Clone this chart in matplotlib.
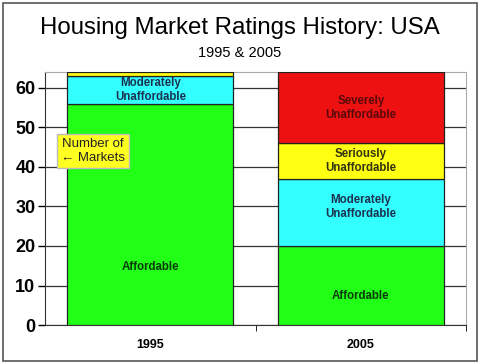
import matplotlib.pyplot as plt
from matplotlib.patches import Rectangle

plt.rcParams['font.family'] = ['Liberation Sans', 'DejaVu Sans']

years = ['1995', '2005']
ratings = ['Affordable', 'Moderately\nUnaffordable', 'Seriously\nUnaffordable', 'Severely\nUnaffordable']
counts_1995 = [56, 7, 1, 0]
counts_2005 = [20, 17, 9, 18]
yticks = [0, 10, 20, 30, 40, 50, 60]

colors = ['#22ff16', '#33ffff', '#ffff11', '#ee1111']
text_colors = ['#0a3a0a', '#1c3350', '#333310', '#5a0a0a']
# where the label sits inside each segment (fraction of segment height)
label_frac = {(0, 0): 0.26, (1, 0): 0.37, (1, 1): 0.58}

fig = plt.figure(figsize=(4.8, 3.64), dpi=100)
fig.patches.append(Rectangle((0.006, 0.008), 0.988, 0.984, transform=fig.transFigure,
                             fill=False, edgecolor='#555555', linewidth=1.2))
ax = fig.add_axes([0.094, 0.107, 0.877, 0.695])

data = [counts_1995, counts_2005]
for i, counts in enumerate(data):
    bottom = 0
    for j, v in enumerate(counts):
        if v == 0:
            continue
        ax.bar(i, v, bottom=bottom, width=0.79, color=colors[j], edgecolor='#222222',
               linewidth=0.9, zorder=3)
        if v > 3:
            f = label_frac.get((i, j), 0.5)
            ax.text(i, bottom + v * f, ratings[j], ha='center', va='center', fontsize=8.3,
                    fontweight='bold', color=text_colors[j], linespacing=1.2, zorder=4)
        bottom += v

ax.set_xlim(-0.5, 1.5)
ax.set_ylim(0, 64)
ax.set_yticks(yticks)
ax.set_yticklabels([str(t) for t in yticks], fontsize=13, fontweight='bold')
ax.set_xticks([0, 1])
ax.set_xticklabels(years, fontsize=9, fontweight='bold')
ax.tick_params(axis='x', length=0, pad=10)
ax.set_xticks([0.5, 1.5], minor=True)
ax.tick_params(axis='x', which='minor', length=4, direction='out')
ax.tick_params(axis='y', length=5, width=1, pad=2)
ax.yaxis.grid(True, color='#333333', linewidth=0.9, zorder=0)
ax.set_axisbelow(True)
for s in ['top', 'right']:
    ax.spines[s].set_color('#aaaaaa')
ax.spines['left'].set_color('#333333')
ax.spines['bottom'].set_color('#333333')

ax.text(-0.272, 44, 'Number of\n\u2190 Markets', ha='center', va='center', fontsize=9.5,
        color='#222222', linespacing=1.15, zorder=5,
        bbox=dict(boxstyle='square,pad=0.3', facecolor='#ffff22', edgecolor='#bbbbbb'))

fig.text(0.5, 0.922, 'Housing Market Ratings History: USA', ha='center', va='center', fontsize=17.3)
fig.text(0.5, 0.855, '1995 & 2005', ha='center', va='center', fontsize=10.5)

fig.savefig('out.png', dpi=100)
